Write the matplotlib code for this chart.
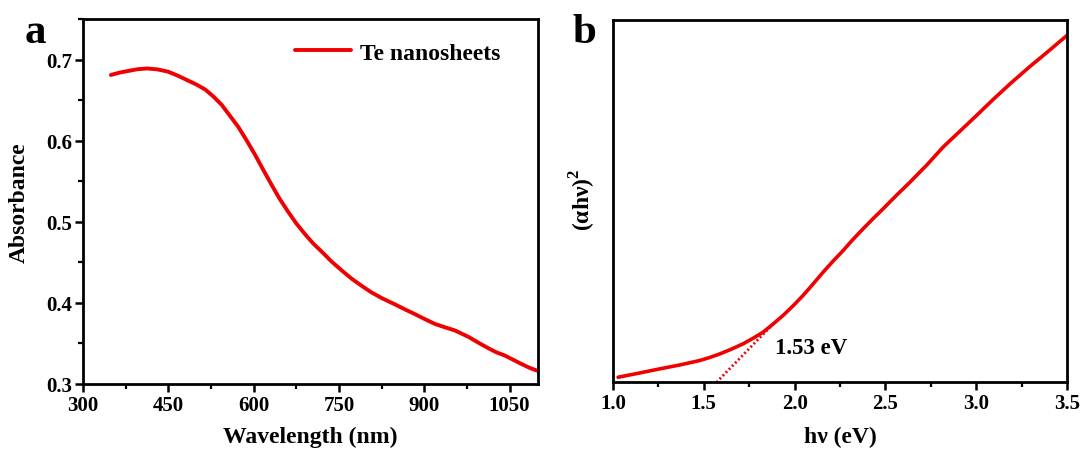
import matplotlib
matplotlib.use("Agg")
import matplotlib.pyplot as plt
from matplotlib.ticker import MultipleLocator, NullLocator, FormatStrFormatter

plt.rcParams["font.family"] = ["Liberation Serif", "DejaVu Serif"]
plt.rcParams["font.weight"] = "bold"
plt.rcParams["mathtext.fontset"] = "custom"
plt.rcParams["mathtext.rm"] = "Liberation Serif"
plt.rcParams["mathtext.bf"] = "Liberation Serif:bold"

# panel a: absorbance spectrum
wavelength = [349, 365, 380, 395, 412, 430, 450, 467, 485, 500, 515, 530, 544,
              558, 573, 588, 603, 617, 632, 646, 661, 675, 690, 705, 720, 737,
              755, 772, 790, 807, 825, 837, 849, 866, 884, 901, 919, 936, 954,
              966, 978, 995, 1013, 1027, 1042, 1056, 1070, 1085, 1100]
absorbance = [0.681, 0.684, 0.686, 0.688, 0.689, 0.688, 0.685, 0.680, 0.674,
              0.669, 0.663, 0.654, 0.644, 0.631, 0.617, 0.600, 0.582, 0.564,
              0.545, 0.528, 0.512, 0.498, 0.485, 0.473, 0.463, 0.451, 0.440,
              0.430, 0.421, 0.413, 0.406, 0.402, 0.398, 0.392, 0.386, 0.380,
              0.374, 0.370, 0.366, 0.362, 0.358, 0.351, 0.344, 0.339, 0.335,
              0.330, 0.325, 0.320, 0.316]

# panel b: Tauc plot (arbitrary units)
energy = [1.028, 1.14, 1.257, 1.37, 1.477, 1.53, 1.587, 1.65, 1.716, 1.77,
          1.826, 1.88, 1.936, 1.99, 2.046, 2.10, 2.156, 2.21, 2.267, 2.32,
          2.377, 2.43, 2.487, 2.56, 2.634, 2.73, 2.817, 2.91, 3.001, 3.09,
          3.185, 3.29, 3.401, 3.45, 3.5]
tauc = [0.014, 0.025, 0.037, 0.048, 0.060, 0.068, 0.078, 0.091, 0.106, 0.121,
        0.138, 0.160, 0.184, 0.210, 0.239, 0.270, 0.303, 0.333, 0.363, 0.393,
        0.423, 0.450, 0.478, 0.515, 0.551, 0.600, 0.648, 0.692, 0.735, 0.778,
        0.822, 0.868, 0.914, 0.935, 0.956]
fit_x = [1.57, 1.89]
fit_y = [0.0, 0.165]

red = "#f00000"

fig = plt.figure(figsize=(10.8, 4.52), dpi=100)
ax1 = fig.add_axes([83 / 1080, 67 / 452, 455 / 1080, 365 / 452])
ax2 = fig.add_axes([613 / 1080, 68.7 / 452, 454 / 1080, 362.8 / 452])

ax1.plot(wavelength, absorbance, color=red, lw=2.8, label="Te nanosheets",
         solid_capstyle="round", solid_joinstyle="round")
ax1.set_xlim(300, 1100)
ax1.set_ylim(0.3, 0.75)
ax1.xaxis.set_major_locator(MultipleLocator(150))
ax1.xaxis.set_minor_locator(MultipleLocator(75))
ax1.yaxis.set_major_locator(MultipleLocator(0.1))
ax1.yaxis.set_minor_locator(MultipleLocator(0.05))
ax1.set_xlabel("Wavelength (nm)", fontsize=17, fontweight="bold")
ax1.set_ylabel("Absorbance", fontsize=17, fontweight="bold")
ax1.xaxis.set_label_coords(0.5, -0.115)
ax1.yaxis.set_label_coords(-0.118, 0.5)
ax1.legend(loc="center left", bbox_to_anchor=(0.466, 0.907), frameon=False,
           fontsize=17, handlelength=2.35, handletextpad=0.4, borderpad=0,
           borderaxespad=0)
ax1.text(-0.128, 0.937, "a", transform=ax1.transAxes, fontsize=31,
         fontweight="bold", va="baseline", ha="left")

ax2.plot(energy, tauc, color=red, lw=2.6, solid_capstyle="round",
         solid_joinstyle="round")
ax2.plot(fit_x, fit_y, color=red, lw=2.0, ls=(0, (0.7, 0.9)))
ax2.set_xlim(1.0, 3.5)
ax2.set_ylim(0, 1)
ax2.xaxis.set_major_locator(MultipleLocator(0.5))
ax2.xaxis.set_minor_locator(MultipleLocator(0.25))
ax2.xaxis.set_major_formatter(FormatStrFormatter("%.1f"))
ax2.yaxis.set_major_locator(NullLocator())
ax2.set_xlabel("hν (eV)", fontsize=17, fontweight="bold")
ax2.set_ylabel("(αhν)$^{\\mathbf{2}}$", fontsize=17, fontweight="bold")
ax2.xaxis.set_label_coords(0.5, -0.12)
ax2.yaxis.set_label_coords(-0.032, 0.505)
ax2.text(1.89, 0.095, "1.53 eV", fontsize=16.5, fontweight="bold",
         va="center", ha="left")
ax2.text(-0.09, 0.938, "b", transform=ax2.transAxes, fontsize=31,
         fontweight="bold", va="baseline", ha="left")

for ax in (ax1, ax2):
    for s in ax.spines.values():
        s.set_linewidth(2.0)
    ax.tick_params(which="major", direction="out", length=6, width=1.8,
                   labelsize=15, pad=2, top=False, right=False)
    ax.tick_params(which="minor", direction="out", length=3.5, width=1.6,
                   top=False, right=False)
    for lab in ax.get_xticklabels() + ax.get_yticklabels():
        lab.set_fontweight("bold")

fig.savefig("out.png", dpi=100)
